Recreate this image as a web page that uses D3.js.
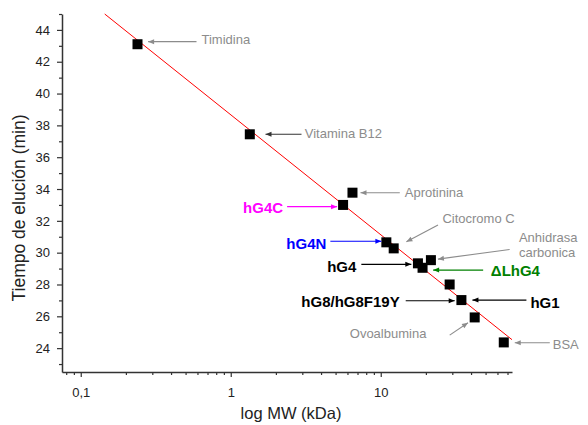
<!DOCTYPE html>
<html>
<head>
<meta charset="utf-8">
<script src="https://cdn.jsdelivr.net/npm/d3@7"></script>
<style>
  body { margin: 0; background: #fff; }
  svg { font-family: "Liberation Sans", Arial, sans-serif; }
</style>
</head>
<body>
<div id="chart"></div>
<script>
// data
var proteins = ["Timidina", "Vitamina B12", "hG4C", "Aprotinina", "hG4N", "Citocromo C",
                "hG4", "ΔLhG4", "Anhidrasa carbonica", "", "hG8/hG1", "Ovoalbumina", "BSA"];
var mwKDa = [0.239, 1.34, 5.61, 6.48, 10.9, 12.2, 17.7, 19.0, 21.6, 28.8, 34.5, 42.3, 66.1];
var elutionMin = [43.1, 37.44, 33.0, 33.77, 30.65, 30.27, 29.33, 29.05, 29.53, 28.0, 27.02, 25.93, 24.36];

// calibration line, two end points
var fitMw = [0.1445, 75];
var fitTime = [45, 24.53];

var xMajor = [0.1, 1, 10];
var xMajorLabels = ["0,1", "1", "10"];
var xMinor = [0.08, 0.09, 0.2, 0.3, 0.4, 0.5, 0.6, 0.7, 0.8, 0.9,
              2, 3, 4, 5, 6, 7, 8, 9, 20, 30, 40, 50, 60, 70];
var yMajor = [24, 26, 28, 30, 32, 34, 36, 38, 40, 42, 44];
var yMinor = [23, 25, 27, 29, 31, 33, 35, 37, 39, 41, 43, 45];

var width = 588, height = 425;

// annotation layout (pixel offsets from the point they refer to)
var notes = [
  { i: 0, lines: ["Timidina"], color: "#8c8c8c", arrow: "#8c8c8c", bold: false, tx: 64, ty: 0, anchor: "start", tail: [59, -2.6], tip: [10.6, -2.6] },
  { i: 1, lines: ["Vitamina B12"], color: "#8c8c8c", arrow: "#333", bold: false, tx: 55, ty: 4, anchor: "start", tail: [51.7, 0], tip: [15.7, 0] },
  { i: 2, lines: ["hG4C"], color: "#ff00ff", arrow: "#ff00ff", bold: true, tx: -60, ty: 7.7, anchor: "end", tail: [-56, 1.7], tip: [-6, 1.7] },
  { i: 3, lines: ["Aprotinina"], color: "#8c8c8c", arrow: "#8c8c8c", bold: false, tx: 52.3, ty: 4, anchor: "start", tail: [47.3, 0], tip: [8, 0] },
  { i: 4, lines: ["hG4N"], color: "#0000ff", arrow: "#0000ff", bold: true, tx: -60, ty: 7, anchor: "end", tail: [-56, -1], tip: [-5, -1] },
  { i: 5, lines: ["Citocromo C"], color: "#8c8c8c", arrow: "#8c8c8c", bold: false, tx: 48.7, ty: -25, anchor: "start", tail: [44.3, -23.3], tip: [12.7, -6.6] },
  { i: 6, lines: ["hG4"], color: "#000", arrow: "#000", bold: true, tx: -61.6, ty: 8.4, anchor: "end", tail: [-56.6, 1], tip: [-6.6, 1] },
  { i: 7, lines: ["ΔLhG4"], color: "#008000", arrow: "#008000", bold: true, tx: 68.3, ty: 8.3, anchor: "start", tail: [60.6, 2.3], tip: [10.6, 2.3] },
  { i: 8, lines: ["Anhidrasa", "carbonica"], color: "#8c8c8c", arrow: "#8c8c8c", bold: false, tx: 88, ty: -18.3, anchor: "start", tail: [78.7, -10.7], tip: [7, -1] },
  { i: 10, lines: ["hG1"], color: "#000", arrow: "#000", bold: true, tx: 69, ty: 8.3, anchor: "start", tail: [65, 0], tip: [11, 0] },
  { i: 10, lines: ["hG8/hG8F19Y"], color: "#000", arrow: "#000", bold: true, tx: -61.7, ty: 7.3, anchor: "end", tail: [-55.7, 0.7], tip: [-6.7, 0.7] },
  { i: 11, lines: ["Ovoalbumina"], color: "#8c8c8c", arrow: "#8c8c8c", bold: false, tx: -48.3, ty: 21, anchor: "end", tail: [-25, 17.7], tip: [-6.7, 5.4] },
  { i: 12, lines: ["BSA"], color: "#8c8c8c", arrow: "#8c8c8c", bold: false, tx: 49, ty: 7, anchor: "start", tail: [46, 0.4], tip: [11, 0.4] }
];

var svg = d3.select("#chart").append("svg")
  .attr("width", width)
  .attr("height", height);

var x = d3.scaleLog().domain([0.075, 75]).range([62, 512]);
var y = d3.scaleLinear().domain([22.5, 45]).range([372, 14]);

// arrow heads, one per colour
var colors = Array.from(new Set(notes.map(function (n) { return n.arrow; })));
var defs = svg.append("defs");
colors.forEach(function (c, k) {
  defs.append("marker")
    .attr("id", "ah" + k)
    .attr("markerUnits", "userSpaceOnUse")
    .attr("markerWidth", 10).attr("markerHeight", 10)
    .attr("viewBox", "-8 -4 10 8")
    .attr("refX", 0).attr("refY", 0)
    .attr("orient", "auto")
    .append("path")
    .attr("d", "M0,0L-6,-2.5L-6,2.5Z")
    .attr("fill", c);
});

// axes
var axisColor = "#333";
svg.append("g").attr("transform", "translate(0,372)")
  .call(d3.axisBottom(x).tickValues(xMajor).tickSize(5).tickSizeOuter(0).tickPadding(11)
    .tickFormat(function (d, i) { return xMajorLabels[i]; }));
svg.append("g").attr("transform", "translate(0,372)")
  .call(d3.axisBottom(x).tickValues(xMinor).tickSize(3).tickSizeOuter(0).tickFormat(""))
  .select(".domain").remove();

svg.append("g").attr("transform", "translate(62,0)")
  .call(d3.axisLeft(y).tickValues(yMajor).tickSize(5).tickSizeOuter(0).tickPadding(7));
svg.append("g").attr("transform", "translate(62,0)")
  .call(d3.axisLeft(y).tickValues(yMinor).tickSize(3).tickSizeOuter(0).tickFormat(""))
  .select(".domain").remove();

svg.selectAll(".domain").attr("stroke", axisColor).attr("stroke-width", 1.5);
svg.selectAll(".tick line").attr("stroke", axisColor).attr("stroke-width", 1.2);
svg.selectAll(".tick text")
  .attr("font-family", "Liberation Sans, Arial, sans-serif")
  .attr("font-size", 13).attr("fill", "#222");

svg.append("text")
  .attr("x", 291).attr("y", 419)
  .attr("text-anchor", "middle")
  .attr("font-size", 16.5).attr("fill", "#222")
  .text("log MW (kDa)");

svg.append("text")
  .attr("transform", "translate(25,208) rotate(-90)")
  .attr("text-anchor", "middle")
  .attr("font-size", 17.5).attr("fill", "#222")
  .text("Tiempo de elución (min)");

// calibration line
svg.append("line")
  .attr("x1", x(fitMw[0])).attr("y1", y(fitTime[0]))
  .attr("x2", x(fitMw[1])).attr("y2", y(fitTime[1]))
  .attr("stroke", "#ff0000").attr("stroke-width", 1);

// points
var pts = mwKDa.map(function (m, i) { return { mw: m, t: elutionMin[i], name: proteins[i] }; });
svg.selectAll("rect.pt")
  .data(pts)
  .enter()
  .append("rect")
  .attr("class", "pt")
  .attr("x", function (d) { return x(d.mw) - 5; })
  .attr("y", function (d) { return y(d.t) - 5; })
  .attr("width", 10).attr("height", 10)
  .attr("fill", "#000");

// annotations
notes.forEach(function (n) {
  var px = x(mwKDa[n.i]), py = y(elutionMin[n.i]);
  svg.append("line")
    .attr("x1", px + n.tail[0]).attr("y1", py + n.tail[1])
    .attr("x2", px + n.tip[0]).attr("y2", py + n.tip[1])
    .attr("stroke", n.arrow).attr("stroke-width", 1.1)
    .attr("marker-end", "url(#ah" + colors.indexOf(n.arrow) + ")");
  var t = svg.append("text")
    .attr("x", px + n.tx).attr("y", py + n.ty)
    .attr("text-anchor", n.anchor)
    .attr("font-size", n.bold ? 15 : 13)
    .attr("font-weight", n.bold ? "bold" : "normal")
    .attr("fill", n.color);
  n.lines.forEach(function (s, k) {
    t.append("tspan").attr("x", px + n.tx).attr("dy", k === 0 ? 0 : 15.6).text(s);
  });
});
</script>
</body>
</html>
